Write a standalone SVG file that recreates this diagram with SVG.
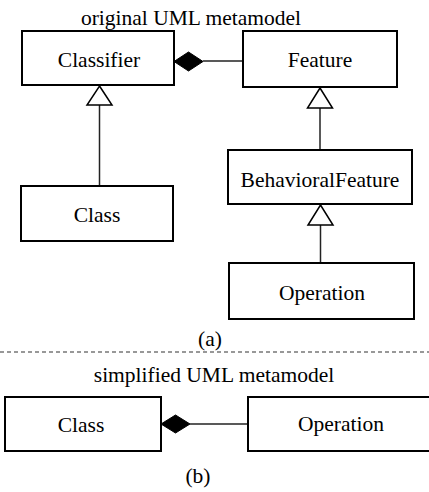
<svg xmlns="http://www.w3.org/2000/svg" width="429" height="492" viewBox="0 0 429 492">
<style>
.box{fill:#fff;stroke:#000;stroke-width:2}
.t{font-family:"Liberation Serif","Times New Roman",serif;font-size:21.5px;fill:#000;text-anchor:middle}
.ln{stroke:#222;stroke-width:1.5;fill:none}
.tri{fill:#fff;stroke:#000;stroke-width:1.5}
.dia{fill:#000;stroke:#000;stroke-width:1}
</style>
<rect width="429" height="492" fill="#fff"/>
<text class="t" x="191" y="25">original UML metamodel</text>
<text class="t" x="210" y="346">(a)</text>
<line x1="0" y1="352" x2="429" y2="352" stroke="#333" stroke-width="1.2" stroke-dasharray="4,3"/>
<text class="t" x="214" y="382">simplified UML metamodel</text>
<text class="t" x="198" y="483">(b)</text>
<g id="connectors">
<line class="ln" x1="203" y1="61" x2="243" y2="61"/>
<polygon class="dia" points="174,61.5 188.5,52 203,61.5 188.5,71"/>
<line class="ln" x1="99.5" y1="105" x2="99.5" y2="186"/>
<polygon class="tri" points="99.5,86 112,105 87,105"/>
<line class="ln" x1="320" y1="108" x2="320" y2="150"/>
<polygon class="tri" points="320,88 332.5,108 307.5,108"/>
<line class="ln" x1="320.5" y1="225" x2="320.5" y2="263"/>
<polygon class="tri" points="320.5,205 333,225 308,225"/>
<line class="ln" x1="190" y1="424" x2="248" y2="424"/>
<polygon class="dia" points="161,424 175.5,415 190,424 175.5,433"/>
</g>
<g id="classifier"><rect class="box" x="22" y="31" width="152" height="54"/><text class="t" x="99" y="67">Classifier</text></g>
<g id="feature"><rect class="box" x="243" y="31" width="154" height="56"/><text class="t" x="320" y="67">Feature</text></g>
<g id="class-a"><rect class="box" x="21" y="186" width="152" height="55"/><text class="t" x="97" y="222">Class</text></g>
<g id="behavioralfeature"><rect class="box" x="228" y="150" width="184" height="54"/><text class="t" x="320" y="187">BehavioralFeature</text></g>
<g id="operation-a"><rect class="box" x="229" y="263" width="185" height="56"/><text class="t" x="322" y="300">Operation</text></g>
<g id="class-b"><rect class="box" x="5" y="397" width="156" height="54"/><text class="t" x="81" y="432">Class</text></g>
<g id="operation-b"><rect class="box" x="248" y="397" width="186" height="54"/><text class="t" x="341" y="431">Operation</text></g>
</svg>
